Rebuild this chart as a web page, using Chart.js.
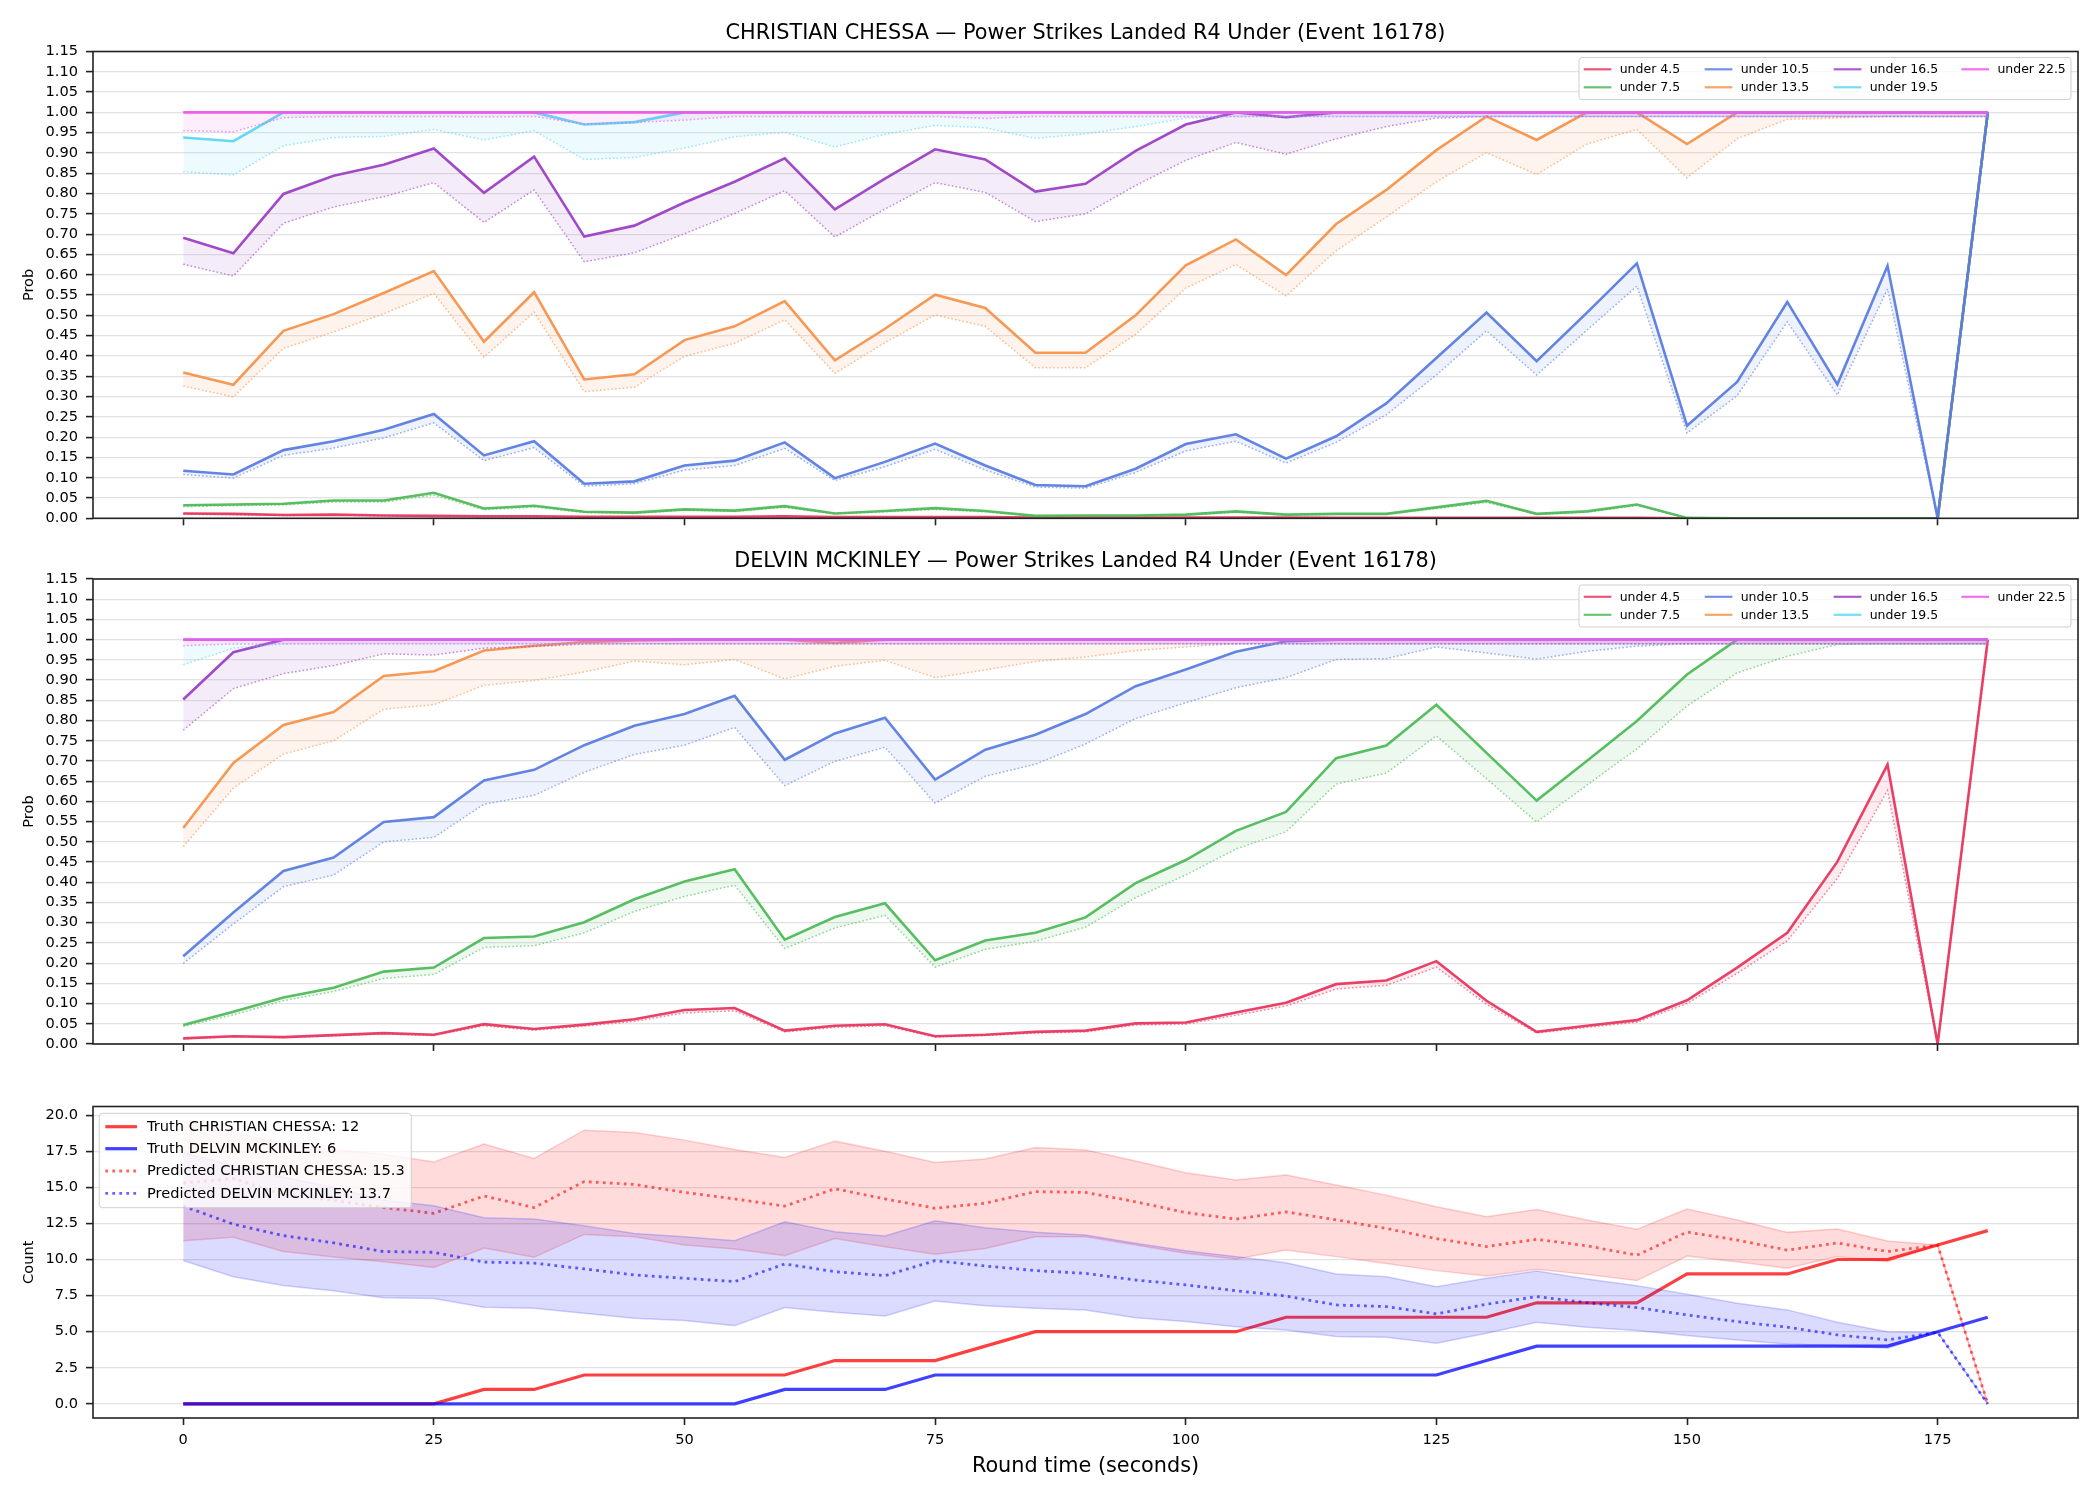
<!DOCTYPE html>
<html><head><meta charset="utf-8">
<script src="https://cdn.jsdelivr.net/npm/chart.js@4.4.1/dist/chart.umd.min.js"></script>
<style>
html,body{margin:0;padding:0;background:#fff;width:2100px;height:1500px;overflow:hidden;}
canvas{position:absolute;left:0;}
</style></head><body>
<canvas id="c1" width="2100" height="540" style="top:0px;width:2100px;height:540px"></canvas>
<canvas id="c2" width="2100" height="550" style="top:535px;width:2100px;height:550px"></canvas>
<canvas id="c3" width="2100" height="415" style="top:1085px;width:2100px;height:415px"></canvas>
<script>
// ---------------- DATA ----------------
const fighterA = 'CHRISTIAN CHESSA';
const fighterB = 'DELVIN MCKINLEY';
const marketTitle = 'Power Strikes Landed R4 Under (Event 16178)';
const times = [0,5,10,15,20,25,30,35,40,45,50,55,60,65,70,75,80,85,90,95,100,105,110,115,120,125,130,135,140,145,150,155,160,165,170,175,180];
const timeTicks = [0,25,50,75,100,125,150,175];
const probTicks = [0,0.05,0.1,0.15,0.2,0.25,0.3,0.35,0.4,0.45,0.5,0.55,0.6,0.65,0.7,0.75,0.8,0.85,0.9,0.95,1.0,1.05,1.1,1.15];
const countTicks = [0,2.5,5,7.5,10,12.5,15,17.5,20];
const lineNames = ['under 4.5','under 7.5','under 10.5','under 13.5','under 16.5','under 19.5','under 22.5'];

// CHRISTIAN CHESSA — market (solid) and model (dotted)
const a_u45  = [0.012,0.011,0.008,0.009,0.007,0.006,0.005,0.005,0.004,0.004,0.004,0.004,0.005,0.003,0.003,0.003,0.003,0.002,0.002,0.002,0.002,0.002,0.002,0.001,0.001,0.001,0.001,0.001,0.001,0.001,0,0,0,0,0,0,1.0];
const a_u45p = [0.010,0.009,0.007,0.008,0.006,0.005,0.004,0.004,0.003,0.003,0.003,0.003,0.004,0.002,0.002,0.002,0.002,0.001,0.001,0.001,0.001,0.001,0.001,0.001,0.001,0.001,0.001,0.001,0.001,0.001,0,0,0,0,0,0,0.99];
const a_u75  = [0.032,0.034,0.036,0.044,0.044,0.063,0.024,0.031,0.016,0.014,0.022,0.019,0.030,0.012,0.018,0.025,0.018,0.006,0.007,0.007,0.009,0.017,0.009,0.011,0.011,0.027,0.043,0.011,0.017,0.034,0.001,0,0,0,0,0,1.0];
const a_u75p = [0.029,0.031,0.033,0.040,0.040,0.057,0.021,0.028,0.014,0.012,0.020,0.017,0.027,0.011,0.016,0.022,0.016,0.005,0.006,0.006,0.008,0.015,0.008,0.010,0.010,0.024,0.039,0.010,0.015,0.031,0.001,0,0,0,0,0,0.99];
const a_u105  = [0.117,0.108,0.168,0.190,0.218,0.257,0.155,0.190,0.085,0.091,0.130,0.142,0.187,0.099,0.139,0.184,0.130,0.082,0.079,0.122,0.183,0.207,0.147,0.202,0.283,0.395,0.507,0.387,0.506,0.628,0.228,0.336,0.533,0.330,0.622,0,1.0];
const a_u105p = [0.108,0.099,0.155,0.173,0.198,0.235,0.142,0.174,0.079,0.085,0.119,0.130,0.172,0.093,0.127,0.170,0.119,0.077,0.074,0.113,0.166,0.190,0.136,0.187,0.255,0.353,0.462,0.353,0.463,0.572,0.210,0.302,0.484,0.304,0.565,0,0.99];
const a_u135  = [0.359,0.329,0.462,0.503,0.555,0.609,0.435,0.557,0.342,0.355,0.439,0.473,0.535,0.389,0.467,0.551,0.518,0.408,0.408,0.500,0.623,0.687,0.599,0.725,0.809,0.907,0.990,0.932,1.0,1.0,0.922,1.0,1.0,1.0,1.0,1.0,1.0];
const a_u135p = [0.326,0.299,0.419,0.459,0.504,0.554,0.397,0.508,0.312,0.323,0.399,0.431,0.489,0.357,0.433,0.501,0.473,0.371,0.371,0.453,0.567,0.625,0.548,0.659,0.742,0.829,0.901,0.847,0.922,0.958,0.839,0.935,0.983,0.986,0.99,0.99,0.99];
const a_u165  = [0.691,0.653,0.799,0.844,0.871,0.911,0.802,0.891,0.694,0.721,0.778,0.829,0.887,0.761,0.837,0.909,0.884,0.805,0.824,0.905,0.970,1.0,0.988,1.0,1.0,1.0,1.0,1.0,1.0,1.0,1.0,1.0,1.0,1.0,1.0,1.0,1.0];
const a_u165p = [0.626,0.597,0.727,0.767,0.792,0.827,0.729,0.809,0.632,0.654,0.701,0.751,0.807,0.693,0.762,0.827,0.803,0.731,0.750,0.820,0.882,0.926,0.897,0.935,0.965,0.986,0.99,0.99,0.99,0.99,0.99,0.99,0.99,0.99,0.99,0.99,0.99];
const a_u195  = [0.938,0.929,1.0,1.0,1.0,1.0,1.0,1.0,0.970,0.976,1.0,1.0,1.0,1.0,1.0,1.0,1.0,1.0,1.0,1.0,1.0,1.0,1.0,1.0,1.0,1.0,1.0,1.0,1.0,1.0,1.0,1.0,1.0,1.0,1.0,1.0,1.0];
const a_u195p = [0.854,0.846,0.918,0.938,0.941,0.958,0.932,0.955,0.884,0.889,0.912,0.940,0.951,0.915,0.946,0.968,0.962,0.936,0.947,0.965,0.986,0.99,0.99,0.99,0.99,0.99,0.99,0.99,0.99,0.99,0.99,0.99,0.99,0.99,0.99,0.99,0.99];
const a_u225  = [1,1,1,1,1,1,1,1,1,1,1,1,1,1,1,1,1,1,1,1,1,1,1,1,1,1,1,1,1,1,1,1,1,1,1,1,1];
const a_u225p = [0.955,0.952,0.987,0.990,0.990,0.990,0.989,0.990,0.971,0.975,0.981,0.990,0.990,0.990,0.990,0.990,0.985,0.990,0.99,0.99,0.99,0.99,0.99,0.99,0.99,0.99,0.99,0.99,0.99,0.99,0.99,0.99,0.99,0.99,0.99,0.99,0.99];

// DELVIN MCKINLEY — market (solid) and model (dotted)
const b_u45  = [0.014,0.019,0.017,0.022,0.027,0.023,0.049,0.037,0.048,0.061,0.084,0.089,0.033,0.045,0.049,0.019,0.023,0.030,0.033,0.051,0.053,0.078,0.102,0.148,0.157,0.205,0.107,0.030,0.045,0.059,0.108,0.189,0.275,0.451,0.691,0,1.0];
const b_u45p = [0.013,0.018,0.016,0.020,0.025,0.021,0.045,0.034,0.044,0.056,0.077,0.082,0.030,0.041,0.045,0.017,0.021,0.027,0.030,0.047,0.049,0.071,0.094,0.136,0.145,0.190,0.098,0.027,0.041,0.054,0.100,0.175,0.255,0.410,0.627,0,0.99];
const b_u75  = [0.047,0.080,0.115,0.139,0.179,0.189,0.262,0.266,0.301,0.358,0.402,0.432,0.258,0.314,0.348,0.207,0.256,0.275,0.313,0.398,0.455,0.527,0.574,0.707,0.738,0.839,0.720,0.602,0.700,0.799,0.914,1.0,1.0,1.0,1.0,1.0,1.0];
const b_u75p = [0.043,0.072,0.107,0.130,0.162,0.172,0.239,0.243,0.275,0.328,0.365,0.393,0.236,0.287,0.318,0.190,0.234,0.254,0.289,0.362,0.418,0.482,0.525,0.643,0.670,0.762,0.656,0.549,0.640,0.730,0.836,0.918,0.959,0.988,0.99,0.99,0.99];
const b_u105  = [0.217,0.325,0.428,0.461,0.549,0.561,0.652,0.678,0.739,0.787,0.816,0.861,0.703,0.768,0.807,0.654,0.728,0.765,0.816,0.885,0.926,0.970,0.996,1.0,1.0,1.0,1.0,1.0,1.0,1.0,1.0,1.0,1.0,1.0,1.0,1.0,1.0];
const b_u105p = [0.199,0.297,0.389,0.418,0.500,0.511,0.593,0.615,0.672,0.716,0.739,0.783,0.639,0.699,0.734,0.596,0.662,0.692,0.742,0.805,0.844,0.881,0.906,0.951,0.953,0.982,0.967,0.952,0.971,0.984,0.99,0.99,0.99,0.99,0.99,0.99,0.99];
const b_u135  = [0.534,0.695,0.789,0.821,0.910,0.922,0.973,0.985,0.994,0.998,1.0,1.0,1.0,0.992,1.0,1.0,1.0,1.0,1.0,1.0,1.0,1.0,1.0,1.0,1.0,1.0,1.0,1.0,1.0,1.0,1.0,1.0,1.0,1.0,1.0,1.0,1.0];
const b_u135p = [0.488,0.633,0.717,0.750,0.828,0.839,0.887,0.899,0.920,0.947,0.938,0.951,0.903,0.934,0.949,0.906,0.925,0.946,0.957,0.973,0.982,0.99,0.99,0.99,0.99,0.99,0.99,0.99,0.99,0.99,0.99,0.99,0.99,0.99,0.99,0.99,0.99];
const b_u165  = [0.852,0.969,1,1,1,1,1,1,1,1,1,1,1,1,1,1,1,1,1,1,1,1,1,1,1,1,1,1,1,1,1,1,1,1,1,1,1];
const b_u165p = [0.776,0.879,0.916,0.936,0.965,0.962,0.979,0.983,0.989,0.99,0.99,0.99,0.99,0.99,0.99,0.99,0.99,0.99,0.99,0.99,0.99,0.99,0.99,0.99,0.99,0.99,0.99,0.99,0.99,0.99,0.99,0.99,0.99,0.99,0.99,0.99,0.99];
const b_u195  = [1,1,1,1,1,1,1,1,1,1,1,1,1,1,1,1,1,1,1,1,1,1,1,1,1,1,1,1,1,1,1,1,1,1,1,1,1];
const b_u195p = [0.938,0.979,0.989,0.99,0.99,0.99,0.99,0.99,0.99,0.99,0.99,0.99,0.99,0.99,0.99,0.99,0.99,0.99,0.99,0.99,0.99,0.99,0.99,0.99,0.99,0.99,0.99,0.99,0.99,0.99,0.99,0.99,0.99,0.99,0.99,0.99,0.99];
const b_u225  = [1,1,1,1,1,1,1,1,1,1,1,1,1,1,1,1,1,1,1,1,1,1,1,1,1,1,1,1,1,1,1,1,1,1,1,1,1];
const b_u225p = [0.985,0.989,0.99,0.99,0.99,0.99,0.99,0.99,0.99,0.99,0.99,0.99,0.99,0.99,0.99,0.99,0.99,0.99,0.99,0.99,0.99,0.99,0.99,0.99,0.99,0.99,0.99,0.99,0.99,0.99,0.99,0.99,0.99,0.99,0.99,0.99,0.99];

// Counts
const truthA = [0,0,0,0,0,0,1,1,2,2,2,2,2,3,3,3,4,5,5,5,5,5,6,6,6,6,6,7,7,7,9,9,9,10,10,11,12];
const truthB = [0,0,0,0,0,0,0,0,0,0,0,0,1,1,1,2,2,2,2,2,2,2,2,2,2,2,3,4,4,4,4,4,4,4,4,5,6];
const predA  = [15.3,15.6,14.5,14.1,13.6,13.2,14.4,13.6,15.4,15.2,14.65,14.2,13.7,14.9,14.2,13.55,13.9,14.7,14.65,14.0,13.25,12.8,13.3,12.75,12.15,11.45,10.9,11.4,10.95,10.3,11.9,11.35,10.65,11.15,10.55,11.0,0];
const predB  = [13.7,12.45,11.65,11.15,10.55,10.5,9.82,9.75,9.35,8.93,8.7,8.47,9.69,9.16,8.88,9.92,9.55,9.23,9.04,8.58,8.24,7.84,7.47,6.85,6.74,6.23,6.9,7.43,7.01,6.67,6.16,5.7,5.31,4.78,4.43,4.96,0];
const bandAHi = [19.6,18.8,18.0,17.6,17.3,16.75,18.0,17.0,18.96,18.8,18.27,17.62,17.07,18.2,17.5,16.72,16.96,17.76,17.58,16.82,16.01,15.5,15.85,15.16,14.46,13.66,12.96,13.47,12.73,12.09,13.5,12.73,11.88,12.11,11.28,11.0,0];
const bandALo = [11.3,11.54,10.55,10.18,9.84,9.45,10.8,10.15,11.74,11.58,11.0,10.73,10.27,11.46,10.89,10.36,10.77,11.58,11.58,11.0,10.43,10.03,10.66,10.2,9.73,9.23,8.86,9.32,8.97,8.54,10.24,9.85,9.39,10.2,9.85,11.0,0];
const bandBHi = [17.42,16.5,15.7,15.0,14.1,13.72,12.9,12.8,12.34,11.81,11.58,11.3,12.62,11.93,11.63,12.69,12.2,11.88,11.7,11.12,10.61,10.2,9.78,9.0,8.81,8.12,8.7,9.2,8.65,8.19,7.59,6.97,6.51,5.65,5.0,4.96,0];
const bandBLo = [9.93,8.8,8.2,7.84,7.35,7.3,6.7,6.62,6.27,5.93,5.77,5.42,6.67,6.34,6.09,7.13,6.8,6.62,6.51,5.97,5.7,5.35,5.12,4.66,4.61,4.2,4.89,5.65,5.31,5.08,4.73,4.43,4.15,4.04,3.85,4.96,0];

// ---------------- STYLE ----------------
const FONT = "'DejaVu Sans', 'Liberation Sans', sans-serif";
const lineColors = ['#e8375f','#4fba5a','#5b7de0','#f7944b','#9c40c4','#5cd6f5','#f055e8'];
function rgba(hex, a){ const n=parseInt(hex.slice(1),16); return `rgba(${(n>>16)&255},${(n>>8)&255},${n&255},${a})`; }
function pts(arr){ return arr.map((v,i)=>({x:times[i], y:v})); }

function probDatasets(solid, pred){
  const ds=[];
  lineNames.forEach((name,k)=>{
    const c=lineColors[k];
    ds.push({label:name, data:pts(solid[k]), borderColor:rgba(c,0.95), borderWidth:2.6, fill:false});
    ds.push({label:name+' model', data:pts(pred[k]), borderColor:rgba(c,0.6), borderWidth:1.5, borderDash:[1.6,2.2], fill:'-1', backgroundColor:rgba(c,0.1)});
  });
  ds.forEach((d,i)=>{ d.order = ds.length - i; d.pointRadius=0; d.tension=0; });
  return ds;
}

function decor(opts){
  return {
    id:'decor',
    afterDatasetsDraw(chart){
      const ctx=chart.ctx, ca=chart.chartArea;
      ctx.save();
      ctx.strokeStyle='#222'; ctx.lineWidth=1.6; ctx.setLineDash([]);
      ctx.strokeRect(ca.left, ca.top, ca.right-ca.left, ca.bottom-ca.top);
      const L=opts.legend;
      if(L){
        const bx = L.fromRight ? ca.right - L.dx - L.w : ca.left + L.dx;
        const by = ca.top + L.dy;
        ctx.beginPath();
        if(ctx.roundRect) ctx.roundRect(bx,by,L.w,L.h,3); else ctx.rect(bx,by,L.w,L.h);
        ctx.fillStyle='rgba(255,255,255,0.8)'; ctx.fill();
        ctx.strokeStyle='#cfcfcf'; ctx.lineWidth=1; ctx.stroke();
        ctx.font = `${L.fontSize}px ${FONT}`; ctx.textBaseline='middle'; ctx.textAlign='left';
        L.items.forEach((it,i)=>{
          const col=Math.floor(i/L.rows), row=i%L.rows;
          const hx=bx+L.colX[col], hy=by+L.rowY[row];
          ctx.strokeStyle=it.color; ctx.lineWidth=it.lw; ctx.setLineDash(it.dash||[]);
          ctx.beginPath(); ctx.moveTo(hx,hy); ctx.lineTo(hx+L.handleLen,hy); ctx.stroke();
          ctx.setLineDash([]);
          ctx.fillStyle='#000'; ctx.fillText(it.label, hx+L.textOffset, hy+0.5);
        });
      }
      ctx.restore();
    },
    afterDraw(chart){
      const ctx=chart.ctx, ca=chart.chartArea;
      ctx.save(); ctx.fillStyle='#000'; ctx.textAlign='center'; ctx.textBaseline='alphabetic';
      (opts.texts||[]).forEach(t=>{ ctx.font=`${t.size}px ${FONT}`; ctx.fillText(t.text,(ca.left+ca.right)/2,t.y); });
      ctx.restore();
    }
  };
}

function xScale(h, showLabels){
  return {
    type:'linear', min:-9, max:189,
    afterBuildTicks:s=>{ s.ticks=timeTicks.map(v=>({value:v})); },
    afterFit:s=>{ s.height=h; },
    border:{display:false},
    grid:{display:true, drawOnChartArea:false, drawTicks:true, tickLength:7, tickColor:'#222', tickWidth:1.6},
    ticks:{display:showLabels, autoSkip:false, maxRotation:0, padding:6, color:'#000', font:{family:FONT,size:14.6}, callback:v=>String(v)}
  };
}
function yScale(min,max,tickVals,fmt,title){
  return {
    type:'linear', min:min, max:max,
    afterBuildTicks:s=>{ s.ticks=tickVals.map(v=>({value:v})); },
    afterFit:s=>{ s.width=93; },
    border:{display:false},
    grid:{color:'#e2e2e2', lineWidth:1.2, drawTicks:true, tickLength:7, tickColor:'#222', tickWidth:1.6},
    ticks:{autoSkip:false, padding:8, color:'#000', font:{family:FONT,size:14.6}, callback:v=>fmt(v)},
    title:{display:true, text:title, color:'#000', font:{family:FONT,size:14.6}, padding:{top:20,bottom:0}}
  };
}

const probLegendItems = lineNames.map((n,k)=>({label:n, color:rgba(lineColors[k],0.85), lw:2.2}));
function probLegend(){
  return {fromRight:true, dx:7, dy:6, w:492, h:42, rows:2, colX:[4.7,125.7,254.7,382.4], rowY:[11.8,29.8], handleLen:27.7, textOffset:36, fontSize:12.5, items:probLegendItems};
}

const baseOpts = { responsive:false, animation:false, devicePixelRatio:1, events:[],
  plugins:{legend:{display:false}, title:{display:false}, tooltip:{enabled:false}},
  elements:{point:{radius:0}, line:{tension:0}} };

// Panel 1
new Chart(document.getElementById('c1'), {
  type:'line',
  data:{datasets:probDatasets([a_u45,a_u75,a_u105,a_u135,a_u165,a_u195,a_u225],[a_u45p,a_u75p,a_u105p,a_u135p,a_u165p,a_u195p,a_u225p])},
  options:Object.assign({}, baseOpts, {
    layout:{padding:{left:0,right:22,top:51.5,bottom:0}},
    scales:{x:xScale(21.7,false), y:yScale(0,1.15,probTicks,v=>v.toFixed(2),'Prob')}
  }),
  plugins:[decor({legend:probLegend(), texts:[{text:`${fighterA} — ${marketTitle}`, size:20.8, y:38.6}]})]
});

// Panel 2
new Chart(document.getElementById('c2'), {
  type:'line',
  data:{datasets:probDatasets([b_u45,b_u75,b_u105,b_u135,b_u165,b_u195,b_u225],[b_u45p,b_u75p,b_u105p,b_u135p,b_u165p,b_u195p,b_u225p])},
  options:Object.assign({}, baseOpts, {
    layout:{padding:{left:0,right:22,top:44,bottom:0}},
    scales:{x:xScale(41,false), y:yScale(0,1.15,probTicks,v=>v.toFixed(2),'Prob')}
  }),
  plugins:[decor({legend:probLegend(), texts:[{text:`${fighterB} — ${marketTitle}`, size:20.8, y:32}]})]
});

// Panel 3
const redC='#ff0000', blueC='#0000ff';
const countDs = [
  {label:'bandA hi', data:pts(bandAHi), borderColor:rgba(redC,0.18), borderWidth:1.5, fill:false},
  {label:'bandA lo', data:pts(bandALo), borderColor:rgba(redC,0.18), borderWidth:1.5, fill:'-1', backgroundColor:rgba(redC,0.14)},
  {label:`Truth ${fighterA}: ${truthA[truthA.length-1]}`, data:pts(truthA), borderColor:rgba(redC,0.75), borderWidth:3.2, fill:false},
  {label:`Predicted ${fighterA}: ${predA[0].toFixed(1)}`, data:pts(predA), borderColor:rgba(redC,0.6), borderWidth:2.8, borderDash:[2.8,4.2], fill:false},
  {label:'bandB hi', data:pts(bandBHi), borderColor:rgba(blueC,0.18), borderWidth:1.5, fill:false},
  {label:'bandB lo', data:pts(bandBLo), borderColor:rgba(blueC,0.18), borderWidth:1.5, fill:'-1', backgroundColor:rgba(blueC,0.14)},
  {label:`Truth ${fighterB}: ${truthB[truthB.length-1]}`, data:pts(truthB), borderColor:rgba(blueC,0.75), borderWidth:3.2, fill:false},
  {label:`Predicted ${fighterB}: ${predB[0].toFixed(1)}`, data:pts(predB), borderColor:rgba(blueC,0.6), borderWidth:2.8, borderDash:[2.8,4.2], fill:false}
];
countDs.forEach((d,i)=>{ d.order=countDs.length-i; d.pointRadius=0; d.tension=0; });
const countLegendItems = [
  {label:countDs[2].label, color:rgba(redC,0.75), lw:3.2},
  {label:countDs[6].label, color:rgba(blueC,0.75), lw:3.2},
  {label:countDs[3].label, color:rgba(redC,0.6), lw:2.8, dash:[2.8,4.2]},
  {label:countDs[7].label, color:rgba(blueC,0.6), lw:2.8, dash:[2.8,4.2]}
];
new Chart(document.getElementById('c3'), {
  type:'line',
  data:{datasets:countDs},
  options:Object.assign({}, baseOpts, {
    layout:{padding:{left:0,right:22,top:21.5,bottom:0}},
    scales:{x:xScale(82,true), y:yScale(-0.98,20.6,countTicks,v=>v.toFixed(1),'Count')}
  }),
  plugins:[decor({legend:{fromRight:false, dx:6.3, dy:6.8, w:312, h:94.4, rows:4, colX:[6], rowY:[13.4,35.4,57.7,80], handleLen:31.7, textOffset:41.7, fontSize:14.6, items:countLegendItems},
                  texts:[{text:'Round time (seconds)', size:20.8, y:387}]})]
});
</script>
</body></html>
